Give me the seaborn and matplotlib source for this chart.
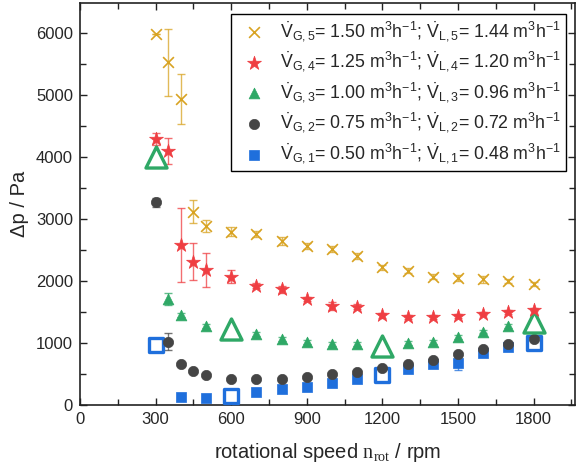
import numpy as np
import pandas as pd
import seaborn as sns
import matplotlib.pyplot as plt

# rotational speeds (rpm) for each flow-rate pair
x_5 = [300, 350, 400, 450, 500, 600, 700, 800, 900, 1000, 1100, 1200, 1300, 1400, 1500, 1600, 1700, 1800]
x_4 = [300, 350, 400, 450, 500, 600, 700, 800, 900, 1000, 1100, 1200, 1300, 1400, 1500, 1600, 1700, 1800]
x_3 = [300, 350, 400, 500, 600, 700, 800, 900, 1000, 1100, 1200, 1300, 1400, 1500, 1600, 1700, 1800]
x_2 = [300, 350, 400, 450, 500, 600, 700, 800, 900, 1000, 1100, 1200, 1300, 1400, 1500, 1600, 1700, 1800]
x_1 = [300, 400, 500, 600, 700, 800, 900, 1000, 1100, 1200, 1300, 1400, 1500, 1600, 1700, 1800]

# pressure drop (Pa) and its error
dp_5 = [5990, 5530, 4935, 3120, 2890, 2795, 2755, 2645, 2565, 2515, 2405, 2220, 2165, 2070, 2045, 2025, 2000, 1955]
err_5 = [0, 540, 410, 190, 100, 70, 50, 60, 50, 50, 50, 40, 40, 40, 50, 50, 40, 30]
dp_4 = [4290, 4100, 2580, 2310, 2175, 2070, 1920, 1865, 1710, 1600, 1585, 1450, 1425, 1415, 1435, 1475, 1505, 1540]
err_4 = [90, 210, 600, 295, 275, 100, 40, 60, 30, 60, 40, 40, 30, 30, 30, 30, 30, 30]
dp_3 = [4000, 1710, 1450, 1280, 1230, 1140, 1060, 1020, 980, 980, 950, 995, 1020, 1100, 1185, 1280, 1345]
err_3 = [40, 100, 30, 30, 40, 30, 30, 30, 30, 30, 60, 30, 30, 30, 30, 30, 40]
dp_2 = [3270, 1020, 655, 555, 485, 415, 415, 420, 455, 500, 535, 590, 655, 725, 825, 900, 985, 1060]
err_2 = [70, 135, 20, 20, 20, 20, 20, 20, 20, 20, 20, 20, 20, 20, 20, 20, 20, 20]
dp_1 = [975, 135, 120, 145, 205, 255, 295, 360, 415, 485, 575, 655, 670, 835, 940, 1005]
err_1 = [30, 20, 20, 30, 20, 20, 20, 20, 20, 40, 20, 20, 100, 20, 20, 30]

# points drawn with large hollow markers
highlight_x = [300, 600, 1200, 1800]

labels = [
    r'$\dot{\mathrm{V}}_{\mathrm{G,1}}$= 0.50 m$^{3}$h$^{-1}$; $\dot{\mathrm{V}}_{\mathrm{L,1}}$= 0.48 m$^{3}$h$^{-1}$',
    r'$\dot{\mathrm{V}}_{\mathrm{G,2}}$= 0.75 m$^{3}$h$^{-1}$; $\dot{\mathrm{V}}_{\mathrm{L,2}}$= 0.72 m$^{3}$h$^{-1}$',
    r'$\dot{\mathrm{V}}_{\mathrm{G,3}}$= 1.00 m$^{3}$h$^{-1}$; $\dot{\mathrm{V}}_{\mathrm{L,3}}$= 0.96 m$^{3}$h$^{-1}$',
    r'$\dot{\mathrm{V}}_{\mathrm{G,4}}$= 1.25 m$^{3}$h$^{-1}$; $\dot{\mathrm{V}}_{\mathrm{L,4}}$= 1.20 m$^{3}$h$^{-1}$',
    r'$\dot{\mathrm{V}}_{\mathrm{G,5}}$= 1.50 m$^{3}$h$^{-1}$; $\dot{\mathrm{V}}_{\mathrm{L,5}}$= 1.44 m$^{3}$h$^{-1}$',
]

sns.set_theme(style='ticks')
plt.rcParams['font.family'] = ['Liberation Sans', 'DejaVu Sans']
plt.rcParams['mathtext.fontset'] = 'custom'
plt.rcParams['mathtext.rm'] = 'Liberation Sans'
plt.rcParams['mathtext.it'] = 'Liberation Sans:italic'
plt.rcParams['mathtext.bf'] = 'Liberation Sans:bold'
plt.rcParams['mathtext.tt'] = 'Liberation Serif'

series = [
    # x, y, err, colour, marker, size, big size, has big markers
    (x_1, dp_1, err_1, '#1f6fdc', 's', 45, 110, True),
    (x_2, dp_2, err_2, '#454545', 'o', 55, 0, False),
    (x_3, dp_3, err_3, '#2fa866', '^', 60, 230, True),
    (x_4, dp_4, err_4, '#ef3e42', '*', 110, 0, False),
    (x_5, dp_5, err_5, '#d8a322', 'x', 60, 0, False),
]

fig = plt.figure(figsize=(5.76, 4.70), dpi=100)
ax = fig.add_axes([80 / 576, 1 - 405 / 470, 495 / 576, 402 / 470])

handles = []
for (xs, ys, es, col, mk, size, big, has_big), lab in zip(series, labels):
    df = pd.DataFrame({'x': xs, 'y': ys, 'e': es})
    df['big'] = df['x'].isin(highlight_x) & has_big
    ax.errorbar(df['x'], df['y'], yerr=df['e'], fmt='none', ecolor=col, alpha=0.75,
                elinewidth=1.0, capsize=3, capthick=1.0, zorder=2)
    small = df[~df['big']]
    if mk == 'x':
        sns.scatterplot(data=small, x='x', y='y', marker=mk, s=size, color=col,
                        linewidth=1.2, ax=ax, zorder=3)
    else:
        sns.scatterplot(data=small, x='x', y='y', marker=mk, s=size, color=col,
                        edgecolor=col, linewidth=0.5, ax=ax, zorder=3)
    handles.append(ax.collections[-1])
    if has_big:
        sns.scatterplot(data=df[df['big']], x='x', y='y', marker=mk, s=big,
                        facecolor='white', edgecolor=col, linewidth=2.4, ax=ax, zorder=3)

ax.set_xlim(0, 1964)
ax.set_ylim(0, 6484)
ax.set_xticks(np.arange(0, 1801, 300))
ax.set_xticks(np.arange(150, 1964, 300), minor=True)
ax.set_yticks(np.arange(0, 6001, 1000))
ax.set_yticks(np.arange(500, 6484, 1000), minor=True)
ax.tick_params(which='both', direction='in', top=True, right=True, labelsize=12,
               width=1.0, color='#222222', pad=5)
ax.tick_params(which='major', length=5)
ax.tick_params(which='minor', length=4)
for sp in ax.spines.values():
    sp.set_linewidth(1.2)
    sp.set_color('#222222')

ax.set_xlabel(r'rotational speed $\mathtt{n}_{\mathtt{rot}}$ / rpm', fontsize=14.5, labelpad=10)
ax.set_ylabel('Δp / Pa', fontsize=14.5, labelpad=5)

leg = ax.legend(handles[::-1], labels[::-1], loc='upper right',
                bbox_to_anchor=(0.982, 0.973), borderaxespad=0, fontsize=12.8,
                fancybox=False, edgecolor='black', framealpha=1,
                labelspacing=0.35, handletextpad=0.45, borderpad=0.3, handlelength=2.0)
leg.get_frame().set_linewidth(1.0)

fig.savefig('out.png', dpi=100)
